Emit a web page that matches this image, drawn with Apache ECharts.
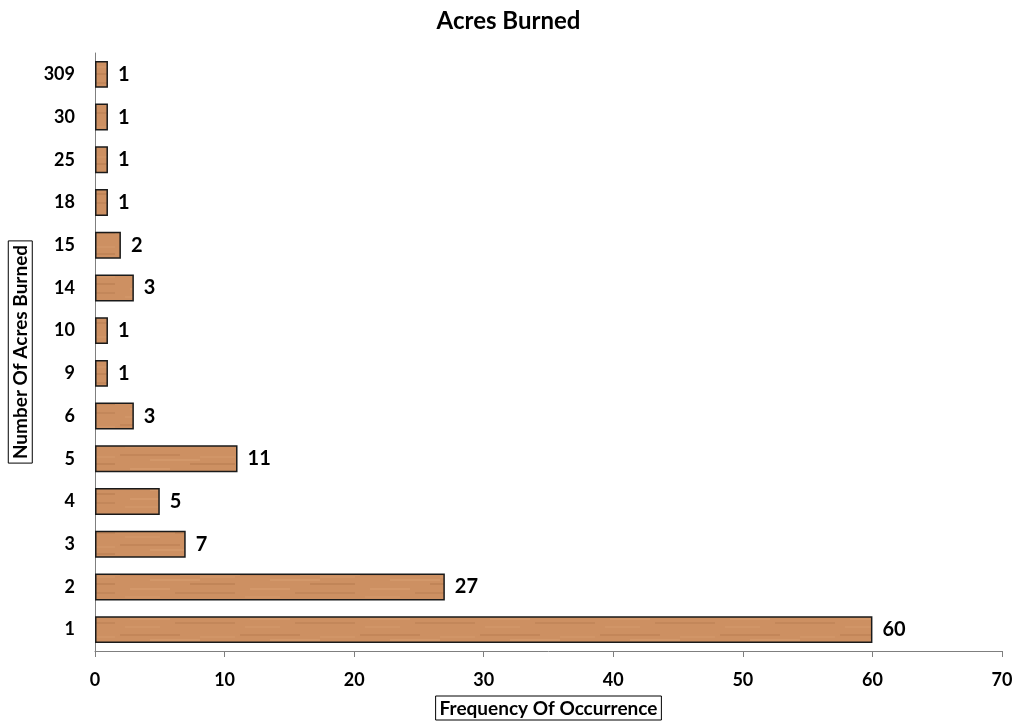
<!DOCTYPE html>
<html><head><meta charset="utf-8">
<script src="https://cdn.jsdelivr.net/npm/echarts@6/dist/echarts.min.js"></script>
<style>html,body{margin:0;padding:0;background:#fff}#c{width:1017px;height:725px}</style>
</head><body><div id="c"></div>
<script>
const categories = ['1','2','3','4','5','6','9','10','14','15','18','25','30','309'];
const values = [60,27,7,5,11,3,1,1,3,2,1,1,1,1];
const xTicks = {min:0, max:70, interval:10};

// wood-like texture pattern (style only)
const pc = document.createElement('canvas');
pc.width = 120; pc.height = 30;
const g = pc.getContext('2d');
g.fillStyle = '#cd9062'; g.fillRect(0,0,120,30);
const streaks = [[0,4,60,'rgba(150,90,50,0.18)'],[30,9,50,'rgba(230,175,130,0.25)'],[70,13,45,'rgba(140,85,45,0.18)'],[10,18,40,'rgba(235,180,135,0.22)'],[55,22,60,'rgba(150,95,55,0.18)'],[5,26,35,'rgba(225,170,125,0.22)'],[80,6,35,'rgba(225,170,125,0.2)']];
streaks.forEach(s=>{g.fillStyle=s[3]; g.fillRect(s[0],s[1],s[2],2);});

const font = 'Lato';
const chart = echarts.init(document.getElementById('c'));
chart.setOption({
  backgroundColor:'#fff',
  title:{text:'Acres Burned', left:'center', top:4, textStyle:{fontFamily:font, fontWeight:'bold', fontSize:24, color:'#000'}},
  grid:{left:95, right:15, top:53, bottom:74, outerBoundsMode:'none', containLabel:false},
  xAxis:{type:'value', min:xTicks.min, max:xTicks.max, interval:xTicks.interval,
    splitLine:{show:false},
    axisLine:{show:true, lineStyle:{color:'#7f7f7f', width:1}},
    axisTick:{show:true, length:6, lineStyle:{color:'#7f7f7f'}},
    axisLabel:{margin:20, fontFamily:font, fontWeight:'bold', fontSize:18, color:'#000'},
    name:'Frequency Of Occurrence', nameLocation:'middle', nameGap:45,
    nameTextStyle:{fontFamily:font, fontWeight:'bold', fontSize:19, color:'#000', borderColor:'#000', borderWidth:1, padding:[3,4,2,4]}
  },
  yAxis:{type:'category', data:categories,
    axisLine:{show:true, lineStyle:{color:'#7f7f7f', width:1}},
    axisTick:{show:false},
    axisLabel:{margin:20, fontFamily:font, fontWeight:'bold', fontSize:18, color:'#000'},
    name:'Number Of Acres Burned', nameLocation:'middle', nameGap:56, nameRotate:90,
    nameTextStyle:{fontFamily:font, fontWeight:'bold', fontSize:19, color:'#000', borderColor:'#000', borderWidth:1, padding:[3,4,2,4]}
  },
  series:[{type:'bar', data:values, barCategoryGap:'37%',
    itemStyle:{color:{image:pc, repeat:'repeat'}, borderColor:'#1a1a1a', borderWidth:1.5},
    label:{show:true, position:'right', distance:10, fontFamily:font, fontWeight:'bold', fontSize:20, color:'#000'},
    animation:false
  }],
  animation:false
});
</script></body></html>
